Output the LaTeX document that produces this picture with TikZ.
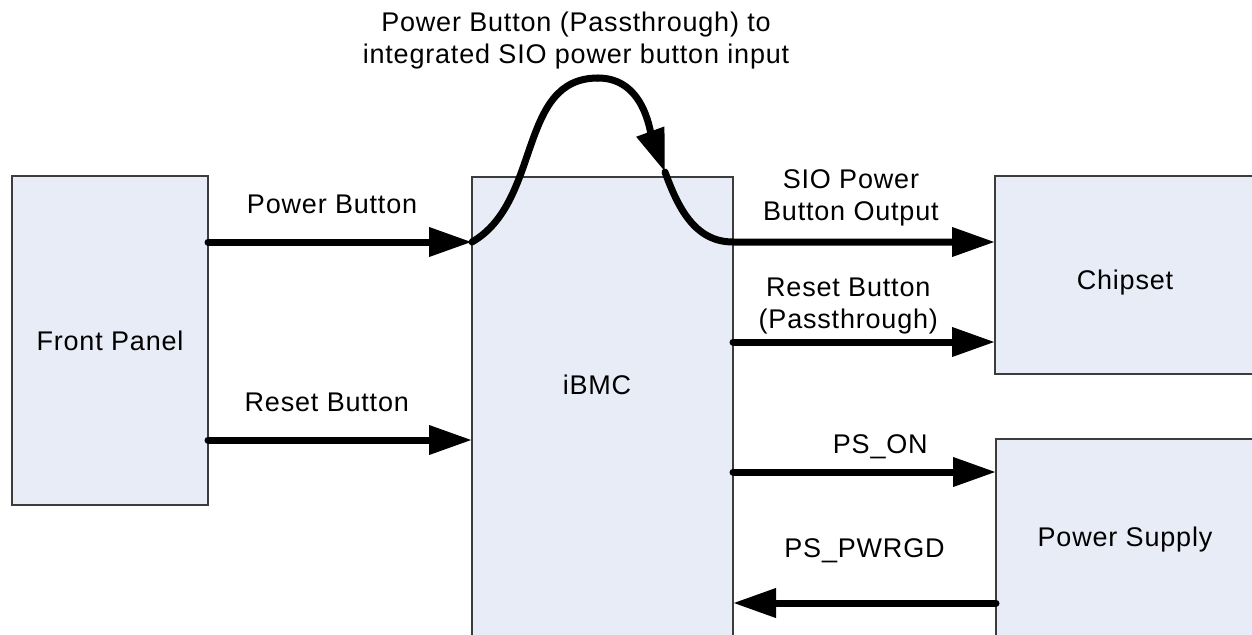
\documentclass[tikz,border=0pt]{standalone}
\usepackage{fontspec}
\setmainfont{Liberation Sans}[LetterSpace=3]
\usetikzlibrary{arrows.meta}
\definecolor{boxfill}{RGB}{232,236,246}
\definecolor{boxline}{RGB}{60,60,60}
\tikzset{
  blk/.style={draw=boxline,line width=0.8pt,fill=boxfill,inner sep=0pt,outer sep=0pt,
    font=\fontsize{13.5}{16}\selectfont},
  wire/.style={line width=3.5pt,line cap=round},
  sig/.style={wire,-{Triangle[length=21.5pt,width=14pt]}},
  lbl/.style={font=\fontsize{13.5}{16}\selectfont,inner sep=0pt,text depth=0pt,align=center}
}

\begin{document}
\begin{tikzpicture}
\pgfsetxvec{\pgfpoint{0.5pt}{0}}
\pgfsetyvec{\pgfpoint{0}{0.5pt}}
  \useasboundingbox (0,0) rectangle (1252,634);
  \clip (0,0) rectangle (1252,634);
  % blocks
  \node[blk,minimum width=98pt,minimum height=164.5pt] (fp) at (110,293.5) {Front Panel};
  \node[blk,minimum width=130.5pt,minimum height=248.5pt] (ibmc) at (602.5,208.5) {};
  \node[lbl] (ibmctxt) at (597,249) {iBMC};
  \node[blk,minimum width=152.5pt,minimum height=99pt] (chip) at (1147.5,359) {};
  \node[lbl] (chiptxt) at (1125,354) {Chipset};
  \node[blk,minimum width=152pt,minimum height=107.5pt] (psu) at (1148,87.5) {};
  \node[lbl] (psutxt) at (1125,97) {Power Supply};
  % rows of the signals
  \coordinate (rowpb) at (0,392);
  \coordinate (rowrb) at (0,194);
  \coordinate (rowrp) at (0,292);
  \coordinate (rowon) at (0,162);
  \coordinate (rowpg) at (0,31);
  \coordinate (peak) at (598,556);
  \coordinate (dip) at (665,462);
  % front panel to iBMC
  \draw[sig] (fp.east |- rowpb) -- node[lbl,above=12.75pt,pos=.47]{Power Button} (ibmc.west |- rowpb);
  \draw[sig] (fp.east |- rowrb) -- node[lbl,above=12.75pt,pos=.45]{Reset Button} (ibmc.west |- rowrb);
  % passthrough loop
  \node[lbl,anchor=south] (pbnote) at (576,570) {Power Button (Passthrough) to\\integrated SIO power button input};
  \draw[wire] (ibmc.west |- rowpb) to[out=30,in=180] (peak);
  \draw[sig] (peak) to[out=0,in=110] (dip);
  \draw[sig] (dip) to[out=-70,in=180] (ibmc.east |- rowpb)
    -- node[lbl,above=9pt,pos=.45]{SIO Power\\Button Output} (chip.west |- rowpb);
  % iBMC to chipset and power supply
  \draw[sig] (ibmc.east |- rowrp) -- node[lbl,above=5pt,pos=.44]{Reset Button\\(Passthrough)} (chip.west |- rowrp);
  \draw[sig] (ibmc.east |- rowon) -- node[lbl,above=7.5pt,pos=.56]{PS\_ON} (psu.west |- rowon);
  \draw[sig] (psu.west |- rowpg) -- node[lbl,above=21pt,pos=.5]{PS\_PWRGD} (ibmc.east |- rowpg);
\end{tikzpicture}
\end{document}
